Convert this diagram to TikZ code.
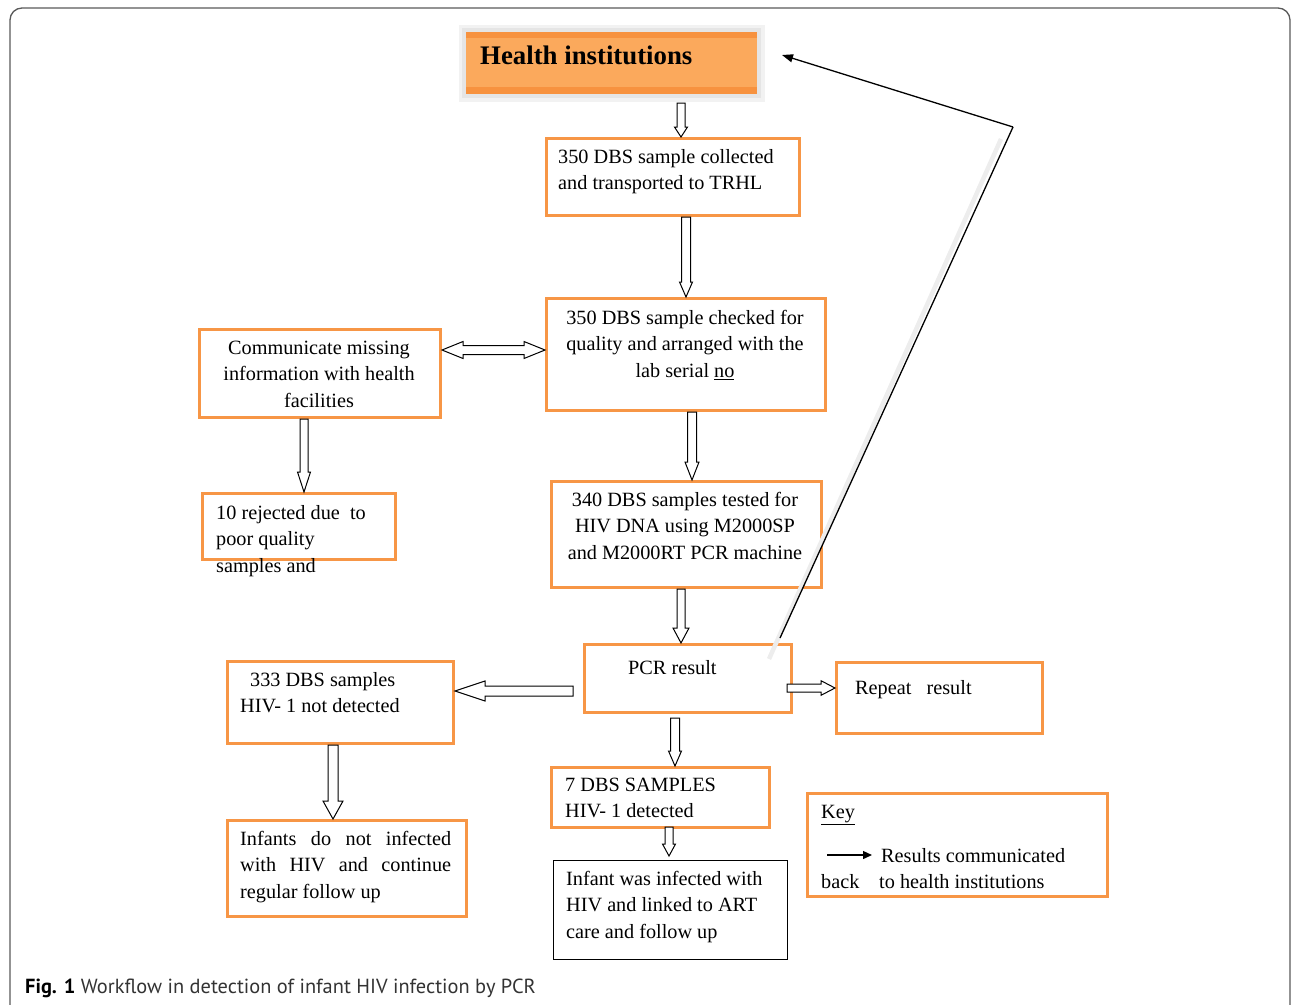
\documentclass[tikz,border=0pt]{standalone}
\usepackage{fontspec}
\setmainfont{Liberation Serif}
\newfontfamily\capfont{PT Sans}
\usetikzlibrary{calc,arrows.meta}
\definecolor{orbord}{HTML}{F79646}
\definecolor{orfill}{HTML}{FBA95C}
\definecolor{orband}{HTML}{F7923F}
\newcommand\hollowarrow[5]{%
  \coordinate (tmpP) at ($(#2)!#5!(#1)$);
  \draw[harrowline] ($(#1)!#3!90:(#2)$) -- ($(tmpP)!#3!90:(#2)$) -- ($(tmpP)!#4!90:(#2)$) -- (#2)
    -- ($(tmpP)!#4!-90:(#2)$) -- ($(tmpP)!#3!-90:(#2)$) -- ($(#1)!#3!-90:(#2)$) -- cycle;}
\newcommand\hollowdarrow[5]{%
  \coordinate (tmpP) at ($(#2)!#5!(#1)$);
  \coordinate (tmpQ) at ($(#1)!#5!(#2)$);
  \draw[harrowline] (#1) -- ($(tmpQ)!#4!90:(#2)$) -- ($(tmpQ)!#3!90:(#2)$) -- ($(tmpP)!#3!-90:(#1)$) -- ($(tmpP)!#4!-90:(#1)$) -- (#2)
    -- ($(tmpP)!#4!90:(#1)$) -- ($(tmpP)!#3!90:(#1)$) -- ($(tmpQ)!#3!-90:(#2)$) -- ($(tmpQ)!#4!-90:(#2)$) -- cycle;}
\begin{document}
\begin{tikzpicture}[x=1pt,y=-1pt,
  box/.style={draw=orbord, line width=3pt, inner sep=0pt, anchor=north west},
  kbox/.style={draw=black, line width=1pt, inner sep=0pt, anchor=north west},
  txt/.style={font=\fontsize{20.25}{26.5}\selectfont, inner sep=0pt, align=left},
  ctxt/.style={font=\fontsize{20.25}{26.5}\selectfont, inner sep=0pt, align=center},
  harrowline/.style={draw=black, fill=white, line width=1pt, line join=miter}]
\useasboundingbox (0,0) rectangle (1292,1004);
% frame
\draw[black!65, line width=1.3pt, rounded corners=12pt] (10,1010) -- (10,8) -- (1290,8) -- (1290,1010);
% Health institutions
\fill[black!5] (459,25) rectangle (765,102);
\fill[black!10] (462,28) rectangle (761,98);
\node[anchor=north west, inner sep=0pt, fill=orfill, minimum width=291pt, minimum height=62pt] (hi) at (466,32) {};
\fill[orband] (466,32) rectangle (757,38);
\fill[orband] (466,87) rectangle (757,94);
\node[anchor=base west, inner sep=0pt, font=\fontsize{26.8}{30}\selectfont\bfseries] (thi) at (480,64) {Health institutions};
% boxes
\node[box, minimum width=253pt, minimum height=77pt] (b1) at (545,137) {};
\node[box, minimum width=279pt, minimum height=112pt] (b2) at (545,297) {};
\node[box, minimum width=241pt, minimum height=88pt] (b3) at (198,328) {};
\node[box, minimum width=193pt, minimum height=66pt] (b4) at (201,492) {};
\node[box, minimum width=270pt, minimum height=106pt] (b5) at (550,480) {};
\node[box, minimum width=207pt, minimum height=68pt] (b6) at (583,643) {};
\node[box, minimum width=206pt, minimum height=71pt] (b7) at (835,661) {};
\node[box, minimum width=226pt, minimum height=82pt] (b8) at (226,660) {};
\node[box, minimum width=239pt, minimum height=96pt] (b9) at (226,819) {};
\node[box, minimum width=218pt, minimum height=60pt] (b10) at (550,766) {};
\node[kbox, minimum width=234pt, minimum height=99pt] (b11) at (553,860) {};
\node[box, minimum width=300pt, minimum height=103pt] (key) at (806,792) {};
% texts
\node[txt, anchor=north west] (t1) at (558,144.45) {\strut 350 DBS sample collected\\and transported to TRHL};
\node[ctxt, anchor=north] (t2) at (685,305.45) {\strut 350 DBS sample checked for\\quality and arranged with the\\lab serial \underline{no}};
\node[ctxt, anchor=north] (t3) at (319,335.45) {\strut Communicate missing\\information with health\\facilities};
\node[txt, anchor=north west] (t4) at (216,500.45) {\strut 10 rejected due\ \ to\\poor quality\\samples and};
\node[ctxt, anchor=north] (t5) at (685,487.45) {\strut 340 DBS samples tested for\\HIV DNA using M2000SP\\and M2000RT PCR machine};
\node[txt, anchor=base west] (t6) at (628,674) {PCR result};
\node[txt, anchor=base west] (t7) at (855,694) {Repeat\ \ \ result};
\node[txt, anchor=north west] (t8) at (240,667.45) {\strut\hspace*{10pt}333 DBS samples\\HIV- 1 not detected};
\node[txt, anchor=north west] (t9) at (240,826.45) {\strut\makebox[211pt][s]{Infants do not infected}\\\makebox[211pt][s]{with HIV and continue}\\regular follow up};
\node[txt, anchor=north west] (t10) at (565,772.45) {\strut 7 DBS SAMPLES\\HIV- 1 detected};
\node[txt, anchor=north west] (t11) at (566,866.45) {\strut Infant was infected with\\HIV and linked to ART\\care and follow up};
\node[txt, anchor=base west] (tk0) at (821,818) {\underline{Key}};
\node[txt, anchor=base west] (tk1) at (881,862) {Results communicated};
\node[txt, anchor=base west] (tk2) at (821,888) {back};
\node[txt, anchor=base west] (tk3) at (879,888) {to health institutions};
\coordinate (kA) at (827,855);
\coordinate (kB) at (872,855);
\draw[line width=1.3pt, -{Triangle[length=9pt,width=8pt]}] (kA) -- (kB);
% hollow arrows
\coordinate (a1) at (681,103);
\hollowarrow{a1}{a1 |- b1.north}{4pt}{6.5pt}{10pt}
\coordinate (a2) at (686,214);
\hollowarrow{a2 |- b1.south}{a2 |- b2.north}{4.5pt}{6.5pt}{15pt}
\coordinate (a3) at (440,350);
\hollowdarrow{b3.east |- a3}{b2.west |- a3}{4.5pt}{8.5pt}{21pt}
\coordinate (a4) at (304,417);
\hollowarrow{a4 |- b3.south}{a4 |- b4.north}{4pt}{6.5pt}{20pt}
\coordinate (a5) at (692,410);
\hollowarrow{a5 |- b2.south}{a5 |- b5.north}{4.5pt}{7pt}{18pt}
\coordinate (a6) at (681,586);
\hollowarrow{a6 |- b5.south}{a6 |- b6.north}{4pt}{8pt}{15pt}
\coordinate (a7) at (573,691);
\hollowarrow{a7}{b8.east |- a7}{5pt}{10pt}{30pt}
\coordinate (a8) at (787,688);
\hollowarrow{a8}{b7.west |- a8}{4pt}{7.3pt}{14pt}
\coordinate (a9) at (675,718);
\hollowarrow{a9}{a9 |- b10.north}{4.5pt}{6.5pt}{15pt}
\coordinate (a10) at (333,742);
\hollowarrow{a10 |- b8.south}{a10 |- b9.north}{5pt}{10pt}{18pt}
\coordinate (a11) at (669,827);
\coordinate (a11e) at (669,856);
\hollowarrow{a11}{a11e}{4pt}{6.5pt}{12pt}
% feedback line
\coordinate (fbLow) at (780,638);
\coordinate (fbTop) at (1013,127);
\coordinate (fbTip) at (782,55);
\draw[black!7, line width=4.5pt] (769,659) -- (1001,139);
\draw[line width=1.3pt] (fbLow) -- (fbTop);
\draw[line width=1.3pt, -{Triangle[length=11pt,width=8pt]}] (fbTop) -- (fbTip);
% caption
\node[anchor=base west, inner sep=0pt, font=\capfont\fontsize{20.4}{24}\selectfont, text=black!80] (cap) at (25,993) {\textbf{\color{black}Fig. 1} Workflow in detection of infant HIV infection by PCR};
\end{tikzpicture}
\end{document}
